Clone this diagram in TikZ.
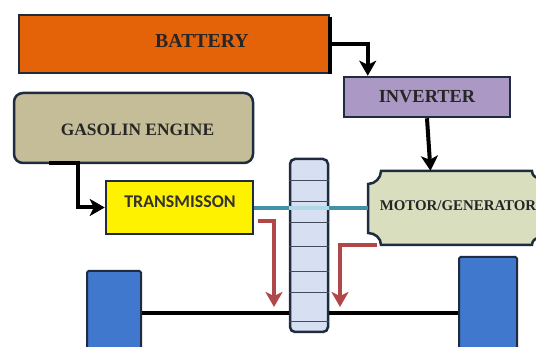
\documentclass[tikz,border=0pt]{standalone}
\usepackage{fontspec}
\setmainfont{Liberation Serif}
\newfontfamily\labelsans{Carlito}
\usetikzlibrary{arrows.meta,positioning}
\definecolor{batteryfill}{HTML}{E46208}
\definecolor{enginefill}{HTML}{C4BD97}
\definecolor{inverterfill}{HTML}{AB98C4}
\definecolor{motorfill}{HTML}{D8DEBE}
\definecolor{gearfill}{HTML}{D6E0F2}
\definecolor{wheelfill}{HTML}{3F78CC}
\definecolor{outline}{HTML}{1F2B3E}
\definecolor{shaftblue}{HTML}{4BACC6}
\definecolor{powerred}{HTML}{B0484A}

\begin{document}
\begin{tikzpicture}[x=1pt,y=-1pt,
	unitbox/.style={draw=outline,line width=2.5pt,inner sep=0pt,font=\bfseries\fontsize{18.4}{18.4}\selectfont,text=black!85},
	wheelbox/.style={draw=outline,line width=2pt,fill=wheelfill,rounded corners=1.5pt,inner sep=0pt,minimum width=#1},
	flow/.style={draw=black,line width=4pt,-{Stealth[length=15pt,width=17pt,inset=4pt]}},
	powerflow/.style={draw=powerred,line width=3.5pt,-{Stealth[length=15pt,width=17pt,inset=4pt]}},
	]
	\useasboundingbox (0,0) rectangle (536,347);

	\node (battery) [unitbox,fill=batteryfill,minimum width=310pt,minimum height=58pt] at (174,44) {};
	\node (batterytext) at (202,41) [font=\bfseries\fontsize{19.8}{19.8}\selectfont,text=black!85] {BATTERY};
	\node (engine) [unitbox,fill=enginefill,rounded corners=9pt,minimum width=239pt,minimum height=70pt] at (133.5,128) {};
	\node (enginetext) at (137.5,130) [font=\bfseries\fontsize{17.4}{17.4}\selectfont,text=black!85] {GASOLIN ENGINE};
	\node (inverter) [unitbox,fill=inverterfill,minimum width=166pt,minimum height=40pt] at (427,97) {INVERTER};
	\node (transmission) [unitbox,fill=yellow,minimum width=147pt,minimum height=53pt] at (179.5,207.5) {};
	\node (transmissiontext) at (180,202) [font=\labelsans\bfseries\fontsize{17.9}{17.9}\selectfont,text=black!80] {TRANSMISSON};

	% motor with the scooped corners
	\draw [draw=outline,line width=2.5pt,fill=motorfill]
		(381,171) -- (532,171) .. controls (532,175) and (535,178) .. (539,178)
		-- (539,238) .. controls (535,238) and (532,241) .. (532,245)
		-- (381,245) .. controls (381,238) and (375,233) .. (368,233)
		-- (368,184) .. controls (375,184) and (381,178) .. (381,171) -- cycle;
	\node (motor) [inner sep=0pt,minimum width=171pt,minimum height=74pt] at (453.5,208) {};
	\node (motortext) at (458,206) [font=\bfseries\fontsize{14.9}{14.9}\selectfont,text=black!85] {MOTOR/GENERATOR};

	\node (wheell) [wheelbox=54pt,minimum height=90pt] at (114,316) {};
	\node (wheelr) [wheelbox=58pt,minimum height=104pt] at (488,309) {};

	% axle and gear
	\node (gear) [draw=outline,line width=2.5pt,fill=gearfill,rounded corners=5pt,inner sep=0pt,minimum width=38pt,minimum height=173pt] at (309,245.5) {};
	\draw [line width=4pt] (wheell.east |- 0,313) -- (gear.west |- 0,313);
	\draw [line width=4pt] (gear.east |- 0,313) -- (wheelr.west |- 0,313);
	\foreach \liney in {181,202,223,247,272,293,322}
		\draw [draw=outline!85,line width=1pt] (gear.west |- 0,\liney) -- (gear.east |- 0,\liney);

	% shaft through the gear
	\draw [draw=shaftblue!85!black,line width=3.5pt] (transmission.east |- 0,208) -- (gear.west |- 0,208);
	\draw [draw=shaftblue!45,line width=3.5pt] (gear.west |- 0,208) -- (gear.east |- 0,208);
	\draw [draw=shaftblue!85!black,line width=3.5pt] (gear.east |- 0,208) -- (motor.west |- 0,208);

	% connectors
	\draw [line width=4pt] ([yshift=-3pt]battery.north east) -- (battery.south east);
	\draw [flow] (battery.east) -| ([xshift=25pt]inverter.north west);
	\draw [flow] (inverter.south) -- ([xshift=-23pt]motor.north);
	\coordinate (enginetap) at (49,163);
	\draw [flow] (enginetap) -- (78,163) |- (transmission.west);
	\coordinate (redstarta) at (258,221);
	\coordinate (redenda) at (274,307);
	\coordinate (redstartb) at (377,245);
	\coordinate (redendb) at (340,307);
	\draw [powerflow] (redstarta) -| (redenda);
	\draw [powerflow] (redstartb) -| (redendb);
\end{tikzpicture}
\end{document}
